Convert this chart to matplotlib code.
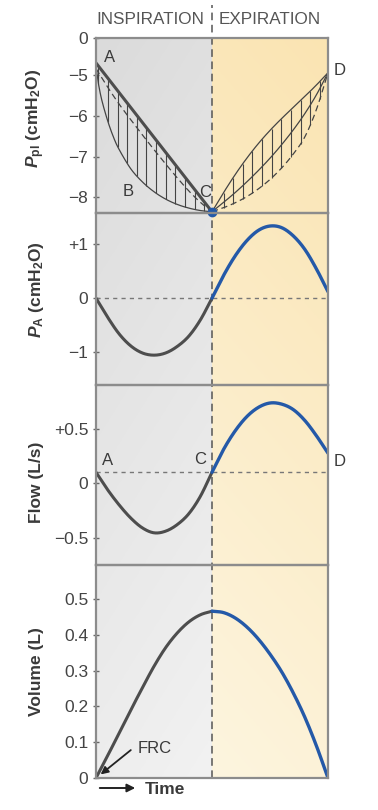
import matplotlib.pyplot as plt
import numpy as np
from matplotlib.patches import FancyArrowPatch

plt.rcParams['font.family'] = ['Liberation Sans', 'DejaVu Sans']
plt.rcParams['mathtext.fontset'] = 'custom'
plt.rcParams['mathtext.rm'] = 'Liberation Sans:bold'
plt.rcParams['mathtext.it'] = 'Liberation Sans:bold:italic'
plt.rcParams['mathtext.bf'] = 'Liberation Sans:bold'

# time axis: 0..1 inspiration, 1..2 expiration (values read every 0.1)
t_insp = [0.0, 0.1, 0.2, 0.3, 0.4, 0.5, 0.6, 0.7, 0.8, 0.9, 1.0]
t_exp = [1.0, 1.1, 1.2, 1.3, 1.4, 1.5, 1.6, 1.7, 1.8, 1.9, 2.0]

# --- pleural pressure (cmH2O) ---
ppl_ac_t = [0.0, 1.0]
ppl_ac = [-4.71, -8.35]
ppl_b_t = [0.0, 0.02, 0.05, 0.1, 0.15, 0.2, 0.3, 0.4, 0.5, 0.6, 0.7, 0.8, 0.9, 1.0]
ppl_b = [-4.8, -5.2, -5.62, -6.12, -6.52, -6.83, -7.3, -7.62, -7.86, -8.04, -8.17, -8.26, -8.32, -8.35]
ppl_dash = [-4.85, -5.3, -5.72, -6.1, -6.47, -6.83, -7.18, -7.52, -7.84, -8.12, -8.35]
ppl_exp_top = [-8.35, -7.88, -7.44, -7.04, -6.68, -6.36, -6.07, -5.8, -5.53, -5.25, -4.95]
ppl_exp_mid = [-8.35, -8.12, -7.88, -7.62, -7.34, -7.04, -6.71, -6.35, -5.95, -5.49, -4.95]
ppl_exp_dash = [-8.35, -8.25, -8.13, -7.98, -7.79, -7.56, -7.28, -6.94, -6.52, -5.85, -4.95]

# --- alveolar pressure (cmH2O) ---
pa_insp = [0, -0.35, -0.66, -0.88, -1.01, -1.05, -1.01, -0.89, -0.70, -0.40, 0]
pa_exp = [0, 0.42, 0.78, 1.06, 1.25, 1.33, 1.30, 1.15, 0.90, 0.54, 0.12]

# --- flow (L/s) ---
flow_insp = [0.1, -0.06, -0.2, -0.32, -0.41, -0.455, -0.44, -0.38, -0.28, -0.12, 0.1]
flow_exp = [0.1, 0.31, 0.48, 0.61, 0.695, 0.735, 0.725, 0.675, 0.575, 0.435, 0.275]
flow_base = 0.1

# --- volume (L) ---
vol_insp = [0, 0.062, 0.126, 0.19, 0.252, 0.312, 0.364, 0.405, 0.436, 0.456, 0.466]
vol_exp = [0.466, 0.462, 0.447, 0.422, 0.388, 0.346, 0.297, 0.238, 0.17, 0.09, 0.0]

ppl_ticks = [-4.1, -5, -6, -7, -8]
ppl_labels = ['0', '−5', '−6', '−7', '−8']
pa_ticks = [1, 0, -1]
pa_labels = ['+1', '0', '−1']
flow_ticks = [0.5, 0, -0.5]
flow_labels = ['+0.5', '0', '−0.5']
vol_ticks = [0, 0.1, 0.2, 0.3, 0.4, 0.5]
vol_labels = ['0', '0.1', '0.2', '0.3', '0.4', '0.5']

W, H = 378, 810
DARK = '#4d4d4d'
THIN = '#444444'
BLUE = '#2459a8'
FRAME = '#8c8c8c'
TXT = '#3a3a3a'


def rect(top, bottom, left=96, right=328):
    return [left / W, 1 - bottom / H, (right - left) / W, (bottom - top) / H]


def smooth(t, v, n=16):
    # Catmull-Rom curve through the read points, only for drawing
    pts = np.column_stack([np.asarray(t, float), np.asarray(v, float)])
    ext = np.vstack([2 * pts[0] - pts[1], pts, 2 * pts[-1] - pts[-2]])
    s = np.linspace(0, 1, n, endpoint=False)[:, None]
    out = []
    for i in range(1, len(ext) - 2):
        p0, p1, p2, p3 = ext[i - 1:i + 3]
        out.append(0.5 * (2 * p1 + (p2 - p0) * s + (2 * p0 - 5 * p1 + 4 * p2 - p3) * s ** 2
                          + (3 * p1 - p0 - 3 * p2 + p3) * s ** 3))
    out.append(pts[-1:])
    res = np.vstack(out)
    return res[:, 0], res[:, 1]


fig = plt.figure(figsize=(W / 100, H / 100), dpi=100)

# background gradient (gray for inspiration, pale yellow for expiration)
bg = fig.add_axes(rect(38, 778), zorder=0)
ny, nx = 200, 200
yy = np.linspace(0, 1, ny)[:, None]
xx = np.linspace(0, 1, nx)[None, :]
img = np.zeros((ny, nx, 3))
gl_top = np.array([0xdb, 0xdb, 0xdb]) / 255
gl_bot = np.array([0xf2, 0xf2, 0xf2]) / 255
yr_top = np.array([0xfa, 0xe4, 0xb2]) / 255
yr_bot = np.array([0xfd, 0xf5, 0xdf]) / 255
left = xx < 0.5
for c in range(3):
    lg = gl_top[c] + (gl_bot[c] - gl_top[c]) * (yy * 0.8 + xx * 0.4)
    rg = yr_top[c] + (yr_bot[c] - yr_top[c]) * (yy * 0.85 + (1 - xx) * 0.3)
    img[:, :, c] = np.where(left, np.clip(lg, 0, 1), np.clip(rg, 0, 1))
bg.imshow(img, extent=[0, 2, 0, 1], aspect='auto', origin='upper')
bg.set_xlim(0, 2)
bg.set_ylim(0, 1)
bg.axis('off')
bg.plot([1, 1], [0, 1 + 33 / 740], color='#555555', lw=1.1, dashes=(5, 3), clip_on=False)

fig.text(204 / W, 1 - 20 / H, 'INSPIRATION', ha='right', va='center', fontsize=12.3, color='#555555')
fig.text(219 / W, 1 - 20 / H, 'EXPIRATION', ha='left', va='center', fontsize=12.3, color='#555555')

tops = [38, 213, 385, 565]
bots = [213, 385, 565, 778]
axes = []
for tp, bt in zip(tops, bots):
    ax = fig.add_axes(rect(tp, bt), zorder=2)
    ax.patch.set_alpha(0)
    ax.set_xlim(0, 2)
    ax.set_xticks([])
    for sp in ax.spines.values():
        sp.set_color(FRAME)
        sp.set_linewidth(1.6)
    ax.tick_params(axis='y', direction='inout', length=5, width=1, color='#666666',
                   labelsize=12.5, labelcolor='#444444', pad=3)
    axes.append(ax)
ax1, ax2, ax3, ax4 = axes

# panel 1: pleural pressure
bx, by = smooth(ppl_b_t, ppl_b)
dx, dy = smooth(t_insp, ppl_dash)
tx, ty = smooth(t_exp, ppl_exp_top)
mx, my = smooth(t_exp, ppl_exp_mid)
ex, ey = smooth(t_exp, ppl_exp_dash)

hatch_l = np.arange(0.02, 0.97, 0.083)
ax1.vlines(hatch_l, np.interp(hatch_l, bx, by), np.interp(hatch_l, ppl_ac_t, ppl_ac),
           color=THIN, lw=0.8)
hatch_r = np.arange(1.1, 1.97, 0.083)
ax1.vlines(hatch_r, np.interp(hatch_r, ex, ey), np.interp(hatch_r, tx, ty), color=THIN, lw=0.8)

ax1.plot(bx, by, color=THIN, lw=0.9)
ax1.plot(dx, dy, color=THIN, lw=0.9, dashes=(5, 3))
ax1.plot(ppl_ac_t, ppl_ac, color=DARK, lw=2.2)
ax1.plot(tx, ty, color=THIN, lw=0.9)
ax1.plot(mx, my, color=THIN, lw=0.9)
ax1.plot(ex, ey, color=THIN, lw=0.9, dashes=(5, 3))
ax1.plot([ppl_ac_t[-1]], [ppl_ac[-1]], 'o', color=BLUE, ms=6, clip_on=False, zorder=5)
ax1.set_ylim(-8.38, -4.1)
ax1.set_yticks(ppl_ticks, ppl_labels)
ax1.text(0.12, -4.58, 'A', fontsize=12, color=TXT, ha='center', va='center')
ax1.text(0.28, -7.85, 'B', fontsize=12, color=TXT, ha='center', va='center')
ax1.text(0.94, -7.88, 'C', fontsize=12, color=TXT, ha='center', va='center')
ax1.text(2.1, -4.9, 'D', fontsize=12, color=TXT, ha='center', va='center', clip_on=False)

# panel 2: alveolar pressure
ax2.axhline(0, color='#777777', lw=1, dashes=(3, 3))
ax2.plot(*smooth(t_insp, pa_insp), color=DARK, lw=2.2, solid_capstyle='round')
ax2.plot(*smooth(t_exp, pa_exp), color=BLUE, lw=2.4, solid_capstyle='round')
ax2.set_ylim(-1.6, 1.57)
ax2.set_yticks(pa_ticks, pa_labels)

# panel 3: flow
ax3.axhline(flow_base, color='#777777', lw=1, dashes=(3, 3))
ax3.plot(*smooth(t_insp, flow_insp), color=DARK, lw=2.2, solid_capstyle='round')
ax3.plot(*smooth(t_exp, flow_exp), color=BLUE, lw=2.4, solid_capstyle='round')
ax3.set_ylim(-0.75, 0.90)
ax3.set_yticks(flow_ticks, flow_labels)
ax3.text(0.1, 0.21, 'A', fontsize=12, color=TXT, ha='center', va='center')
ax3.text(0.9, 0.22, 'C', fontsize=12, color=TXT, ha='center', va='center')
ax3.text(2.1, 0.2, 'D', fontsize=12, color=TXT, ha='center', va='center', clip_on=False)

# panel 4: volume
ax4.plot(*smooth(t_insp, vol_insp), color=DARK, lw=2.2, solid_capstyle='round')
ax4.plot(*smooth(t_exp, vol_exp), color=BLUE, lw=2.4, solid_capstyle='round')
ax4.set_ylim(0, 0.595)
ax4.set_yticks(vol_ticks, vol_labels)
ax4.annotate('', xy=(0.04, 0.01), xytext=(0.3, 0.078),
             arrowprops=dict(arrowstyle='-|>', color='#222222', lw=1.3, shrinkA=0, shrinkB=0,
                             mutation_scale=11))
ax4.text(0.36, 0.083, 'FRC', fontsize=12, color=TXT, ha='left', va='center')

# y axis labels
fig.text(36 / W, 1 - 118 / H, r'$P_{\rm pl}$ (cmH$_{\rm 2}$O)', rotation=90, ha='center', va='center',
         fontsize=12.5, fontweight='bold', color=TXT)
fig.text(37 / W, 1 - 290 / H, r'$P_{\rm A}$ (cmH$_{\rm 2}$O)', rotation=90, ha='center', va='center',
         fontsize=12.5, fontweight='bold', color=TXT)
fig.text(37 / W, 1 - 482 / H, 'Flow (L/s)', rotation=90, ha='center', va='center',
         fontsize=12.5, fontweight='bold', color=TXT)
fig.text(36 / W, 1 - 672 / H, 'Volume (L)', rotation=90, ha='center', va='center',
         fontsize=12.5, fontweight='bold', color=TXT)

# time arrow
fig.add_artist(FancyArrowPatch(
    (97 / W, 1 - 788 / H), (138 / W, 1 - 788 / H), transform=fig.transFigure,
    arrowstyle='-|>', mutation_scale=12, color='#222222', lw=1.4))
fig.text(145 / W, 1 - 790 / H, 'Time', ha='left', va='center', fontsize=12.5, fontweight='bold', color=TXT)

fig.savefig('out.png', dpi=100)
